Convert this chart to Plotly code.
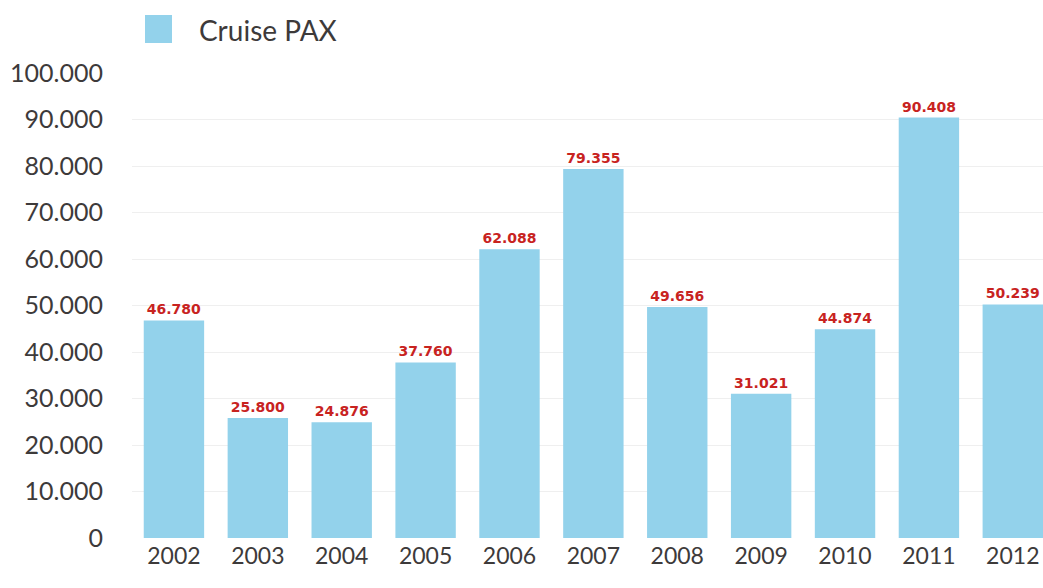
import plotly.graph_objects as go

years = ["2002", "2003", "2004", "2005", "2006", "2007", "2008", "2009", "2010", "2011", "2012"]
cruise_pax = [46780, 25800, 24876, 37760, 62088, 79355, 49656, 31021, 44874, 90408, 50239]
y_ticks = [0, 10000, 20000, 30000, 40000, 50000, 60000, 70000, 80000, 90000, 100000]
y_tick_labels = ["0", "10.000", "20.000", "30.000", "40.000", "50.000", "60.000", "70.000", "80.000", "90.000", "100.000"]
series_name = "Cruise PAX"

bar_color = "#93d2eb"
label_color = "#c8231f"
text_color = "#3d3a3a"
font_family = "Lato, 'Open Sans', sans-serif"

fig = go.Figure()
fig.add_trace(go.Bar(
    x=years, y=cruise_pax, name=series_name,
    marker=dict(color=bar_color, line=dict(width=0)),
    width=0.72,
    texttemplate="%{y:,.0f}",
    textposition="outside",
    textfont=dict(family="'DejaVu Sans', Verdana, sans-serif", size=14, color=label_color, weight="bold"),
    cliponaxis=False,
    showlegend=False,
))

plot_top, plot_h, plot_left, plot_w = 73, 465, 132, 911
fig.add_shape(type="rect", xref="paper", yref="paper",
              x0=(145 - plot_left) / plot_w, x1=(172 - plot_left) / plot_w,
              y0=1.0 + (plot_top - 43) / plot_h, y1=1.0 + (plot_top - 15) / plot_h,
              fillcolor=bar_color, line=dict(width=0))
fig.add_annotation(text=series_name, xref="paper", yref="paper",
                   x=(197 - plot_left) / plot_w, y=1.0 + (plot_top - 30) / plot_h,
                   xanchor="left", yanchor="middle", showarrow=False,
                   font=dict(family=font_family, size=28, color=text_color))

fig.update_layout(
    width=1043, height=588,
    margin=dict(l=plot_left, r=0, t=plot_top, b=50, autoexpand=False),
    paper_bgcolor="white", plot_bgcolor="white",
    separators=",.",
    xaxis=dict(type="category", range=[-0.5, 10.36], showgrid=False, showline=False,
               ticks="", automargin=False, ticklabelstandoff=2,
               tickfont=dict(family=font_family, size=23, color=text_color)),
    yaxis=dict(range=[0, 100000], tickvals=y_ticks, ticktext=y_tick_labels,
               showgrid=True, gridcolor="#efefef", gridwidth=1, zeroline=False,
               showline=False, ticks="", automargin=False, ticklabelstandoff=28,
               tickfont=dict(family=font_family, size=25, color=text_color)),
)

fig.write_html("out.html", config={"displayModeBar": False},
               post_script="document.body.style.margin='0';document.body.style.overflow='hidden';")
